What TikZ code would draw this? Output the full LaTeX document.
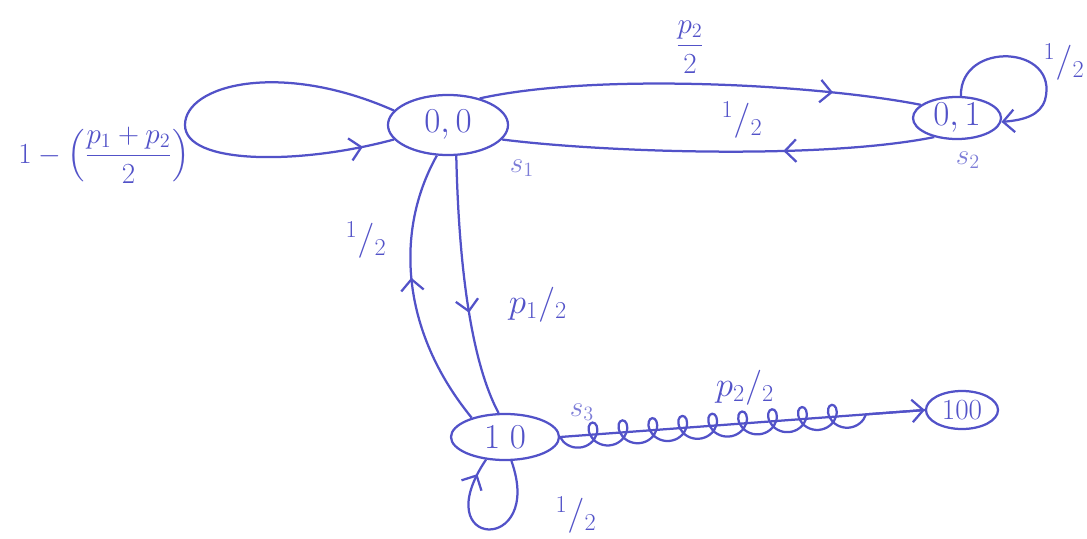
\documentclass[tikz,border=0pt]{standalone}
\usepackage{amsmath}
\usetikzlibrary{shapes.geometric,arrows.meta,decorations.markings,decorations.pathmorphing}
\definecolor{penblue}{RGB}{82,82,200}
\definecolor{penlight}{RGB}{125,125,215}
\tikzset{
  state/.style={ellipse,draw=penblue,line width=1.6pt,inner sep=0pt,text=penblue,font=\fontsize{28}{30}\selectfont},
  wire/.style={draw=penblue,color=penblue,line width=1.6pt},
  midarrow/.style={postaction={decorate},decoration={markings,mark=at position #1 with {\arrow{Straight Barb[length=8pt,width=16pt]}}}},
  lbl/.style={text=penblue,font=\fontsize{24}{26}\selectfont},
  tag/.style={text=penlight,font=\fontsize{22}{24}\selectfont}
}
\begin{document}
\begin{tikzpicture}[x=0.025cm,y=-0.025cm]
\useasboundingbox (0,0) rectangle (1087,539);
% states
\node[state,minimum width=3cm,minimum height=1.5cm] (n00) at (448,125) {$0,0$};
\node[state,minimum width=2.2cm,minimum height=1.05cm] (n01) at (957,118) {$0,1$};
\node[state,minimum width=2.7cm,minimum height=1.15cm] (n10) at (505,437) {$1\;0$};
\node[state,minimum width=1.8cm,minimum height=0.95cm,font=\fontsize{20}{22}\selectfont] (n100) at (962,410) {$100$};
% tags
\node[tag] (s1) at (522,168) {$s_1$}; \node[tag] (s2) at (968,160) {$s_2$}; \node[tag] (s3) at (582,412) {$s_3$};
% transitions
\draw[wire,midarrow=0.8] (n00.40) .. controls (600,72) and (820,85) .. (n01.160);
\draw[wire,midarrow=0.35] (n01.220) .. controls (820,160) and (600,152) .. (n00.-15);
\draw[wire,midarrow=0.93] (n00.165) .. controls (280,60) and (185,85) .. (185,125) .. controls (185,165) and (300,165) .. (n00.195);
\draw[wire,-{Straight Barb[length=8pt,width=16pt]}] (n01.80) .. controls (960,40) and (1060,45) .. (1045,100) .. controls (1040,115) and (1025,120) .. (n01.-5);
\draw[wire,midarrow=0.6] (n00.-75) .. controls (458,230) and (465,350) .. (n10.105);
\draw[wire,midarrow=0.55] (n10.150) .. controls (400,330) and (395,230) .. (n00.-110);
\draw[wire,midarrow=0.9] (n10.-75) .. controls (545,555) and (425,550) .. (n10.-130);
\draw[wire,-{Straight Barb[length=8pt,width=16pt]}] (n10.east) -- (n100.west);
\draw[wire,decorate,decoration={coil,mirror,amplitude=0.3cm,segment length=0.75cm,aspect=0.9,post length=0.8cm}] (n10.east) -- (n100.west);
% labels
\node[lbl,font=\fontsize{20}{22}\selectfont] (l1) at (690,47) {$\dfrac{p_2}{2}$};
\node[lbl] (l2) at (742,120) {${}^1/_2$};
\node[lbl] (l3) at (1064,62) {${}^1/_2$};
\node[lbl,font=\fontsize{20}{22}\selectfont] (l4) at (104,155) {$1-\left(\dfrac{p_1+p_2}{2}\right)$};
\node[lbl] (l5) at (366,240) {${}^1/_2$};
\node[lbl] (l6) at (538,305) {$p_1/_2$};
\node[lbl] (l7) at (745,388) {$p_2/_2$};
\node[lbl] (l8) at (576,515) {${}^1/_2$};
\end{tikzpicture}
\end{document}
